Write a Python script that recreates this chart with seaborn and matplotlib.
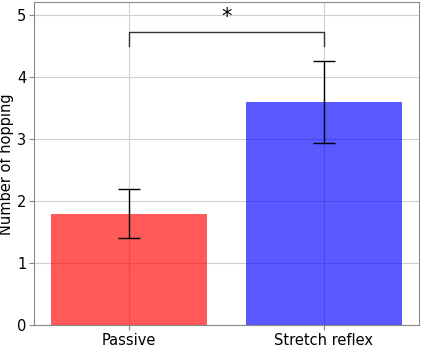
import numpy as np
import pandas as pd
import seaborn as sns
import matplotlib
matplotlib.use('Agg')
import matplotlib.pyplot as plt

conditions = ['Passive', 'Stretch reflex']
mean_hops = [1.8, 3.6]
err_hops = [0.4, 0.66]
bar_colors = ['#ff0000', '#0000ff']

df = pd.DataFrame({'Condition': conditions, 'Hops': mean_hops})

fig, ax = plt.subplots(figsize=(4.29, 3.47), dpi=100)
sns.barplot(x='Condition', y='Hops', data=df, hue='Condition',
            palette=bar_colors, saturation=1, alpha=0.65, width=0.8,
            errorbar=None, legend=False, ax=ax)
ax.errorbar(range(len(conditions)), mean_hops, yerr=err_hops, fmt='none',
            ecolor='black', elinewidth=1, capsize=8, capthick=1)

# significance bracket
y_br, h = 4.5, 0.22
ax.plot([0, 0, 1, 1], [y_br, y_br + h, y_br + h, y_br], color='#333333', lw=1)
ax.text(0.5, y_br + h + 0.08, '*', ha='center', va='bottom', fontsize=15)

ax.set_ylim(0, 5.2)
ax.set_xlabel('')
ax.set_ylabel('Number of hopping', fontsize=10.5, labelpad=2)
ax.tick_params(labelsize=10.5, color='#888888', length=3.5, pad=2)
ax.grid(True, color='#d0d0d0', lw=0.8)
ax.set_axisbelow(True)
for sp in ax.spines.values():
    sp.set_color('#888888')

plt.subplots_adjust(left=0.079, right=0.977, top=0.994, bottom=0.062)
plt.savefig('out.png', dpi=100)
